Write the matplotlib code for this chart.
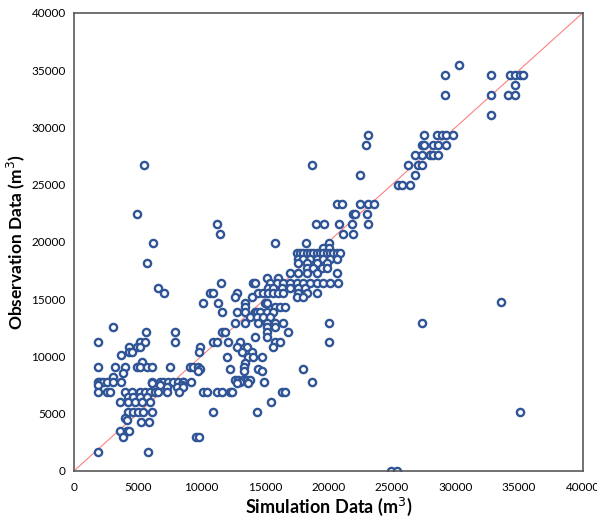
import matplotlib
matplotlib.use("Agg")
import matplotlib.pyplot as plt

# observation levels and the simulated values read at each level
obs_levels = [35440, 34570, 33700, 32850, 31100, 29360, 28490, 27610, 26740, 25870,
              24990, 23280, 22440, 21560, 20690, 19880, 19440, 19000, 18510, 18130,
              17700, 17310, 16880, 16440, 16000, 15570, 15160, 14730, 14690, 14290,
              13850, 13470, 12950, 12900, 12600, 12540, 12100, 11670, 11240, 10850,
              10410, 10130, 9980, 9540, 9400, 9100, 8900, 8760, 8580, 8230,
              7940, 7800, 7650, 7500, 7360, 6920, 6490, 6050, 5180, 4600,
              4450, 4300, 3520, 3000, 1690, 0]

sim_at_level = [
    [30290],
    [29160, 32830, 34270, 34660, 35060, 35320],
    [34660],
    [29160, 32830, 34140, 34660],
    [32830],
    [23130, 27530, 28510, 28900, 29240, 29810],
    [22930, 27330, 27530, 28240, 28630, 29240],
    [26780, 27330, 27980, 28240, 28590],
    [5530, 18680, 26230, 27060, 27330],
    [22480, 26800],
    [25490, 25800, 26410],
    [20650, 21040, 22480, 23130, 23600],
    [4930, 21900, 22100, 23050],
    [11260, 19000, 19650, 20850, 21830, 23110],
    [11480, 21170, 21900],
    [6190, 15800, 18240, 20070],
    [19600, 20070],
    [17500, 17760, 18020, 18290, 18550, 18810, 19080, 19340, 19600, 19860, 20120, 20380, 20650, 20910],
    [17630, 18020, 18550, 19080, 19600, 20120, 20650],
    [5760, 17630, 18290, 19080, 19860],
    [18290, 18810, 19470, 19860],
    [16980, 17630, 18290, 19080, 20650],
    [15150, 16060],
    [11550, 14050, 14230, 15410, 15930, 16450, 16980, 17500, 18020, 18550, 19080, 19600, 20120, 20780],
    [6630, 15270, 15660, 16320, 16980, 17630, 18160],
    [7050, 10690, 10950, 12790, 14490, 14880, 15270, 15660, 16060, 16450, 17630, 18290, 19080],
    [12650, 13970, 17500, 18020],
    [33540],
    [10160, 11340, 13440, 15010, 15150],
    [13440, 15800, 16190, 16580],
    [11610, 12790, 13440, 14230, 14360, 14620, 15150, 15660],
    [13830, 14360, 14880, 15410],
    [27350],
    [12680, 13440, 14440, 15150, 15800, 16450, 20070],
    [15150, 15800],
    [3090],
    [5660, 7960, 11610, 11870, 15150, 16840],
    [14230, 15150],
    [1860, 5190, 5580, 7960, 10950, 11210, 12130, 13050, 15800, 16190, 20070],
    [4350, 4930, 5190, 9900, 12790, 13570, 15660],
    [4350, 4540, 9850, 13180, 13970],
    [3670],
    [12000, 13700, 14050, 14750],
    [5370],
    [13440],
    [1860, 3220, 4010, 4930, 5190, 5710, 6110, 7550, 9120, 9380, 9770, 13390],
    [9900, 12260, 14490, 17970],
    [9770, 13390, 14750],
    [3880],
    [3090],
    [12650, 12910, 13310, 13570, 13830],
    [1860, 2040, 2300, 2570, 3090, 3670, 6110, 6760, 7020, 7410, 7800, 8200, 8540, 8590, 9170, 13050, 14960, 18680],
    [6110, 12790, 13700],
    [1860, 6760, 8460],
    [7290, 8070, 8590],
    [1860, 2570, 2830, 4010, 4540, 5190, 5580, 5970, 6370, 6630, 7290, 8250, 10160, 10430,
     11210, 11610, 12260, 12390, 16320, 16580],
    [4270, 4660, 5190, 5710],
    [3620, 4270, 4790, 5320, 5970, 15460],
    [4270, 4660, 5050, 5450, 6110, 10900, 14410, 35060],
    [4010],
    [4140],
    [5240, 5920],
    [3620, 4140, 4350],
    [3830, 9590, 9850],
    [1860, 5840],
    [24890, 25360],
]

sim = []
obs = []
for level, xs in zip(obs_levels, sim_at_level):
    for x in xs:
        sim.append(x)
        obs.append(level)

axis_ticks = [0, 5000, 10000, 15000, 20000, 25000, 30000, 35000, 40000]

plt.rcParams['font.family'] = ['Lato', 'DejaVu Sans']

fig = plt.figure(figsize=(5.97, 5.18), dpi=100)
ax = fig.add_axes([0.124, 0.091, 0.852, 0.884])

ax.plot([0, 40000], [0, 40000], color='#FF8080', lw=0.8, zorder=1)
ax.plot(sim, obs, linestyle='none', marker='o', markersize=5.2,
        markerfacecolor='white', markeredgecolor='#2F5597', markeredgewidth=1.7, zorder=2)

ax.set_xlim(0, 40000)
ax.set_ylim(0, 40000)
ax.set_xticks(axis_ticks)
ax.set_yticks(axis_ticks)
ax.tick_params(length=0, labelsize=8.5)
ax.tick_params(axis='x', pad=8)
ax.tick_params(axis='y', pad=6)

for s in ax.spines.values():
    s.set_color('#595959')
    s.set_linewidth(1.2)

ax.set_xlabel('Simulation Data (m$^3$)', fontsize=13, fontweight='bold', labelpad=2)
ax.set_ylabel('Observation Data (m$^3$)', fontsize=12.5, fontweight='bold', labelpad=3)

fig.savefig('out.png', dpi=100)
